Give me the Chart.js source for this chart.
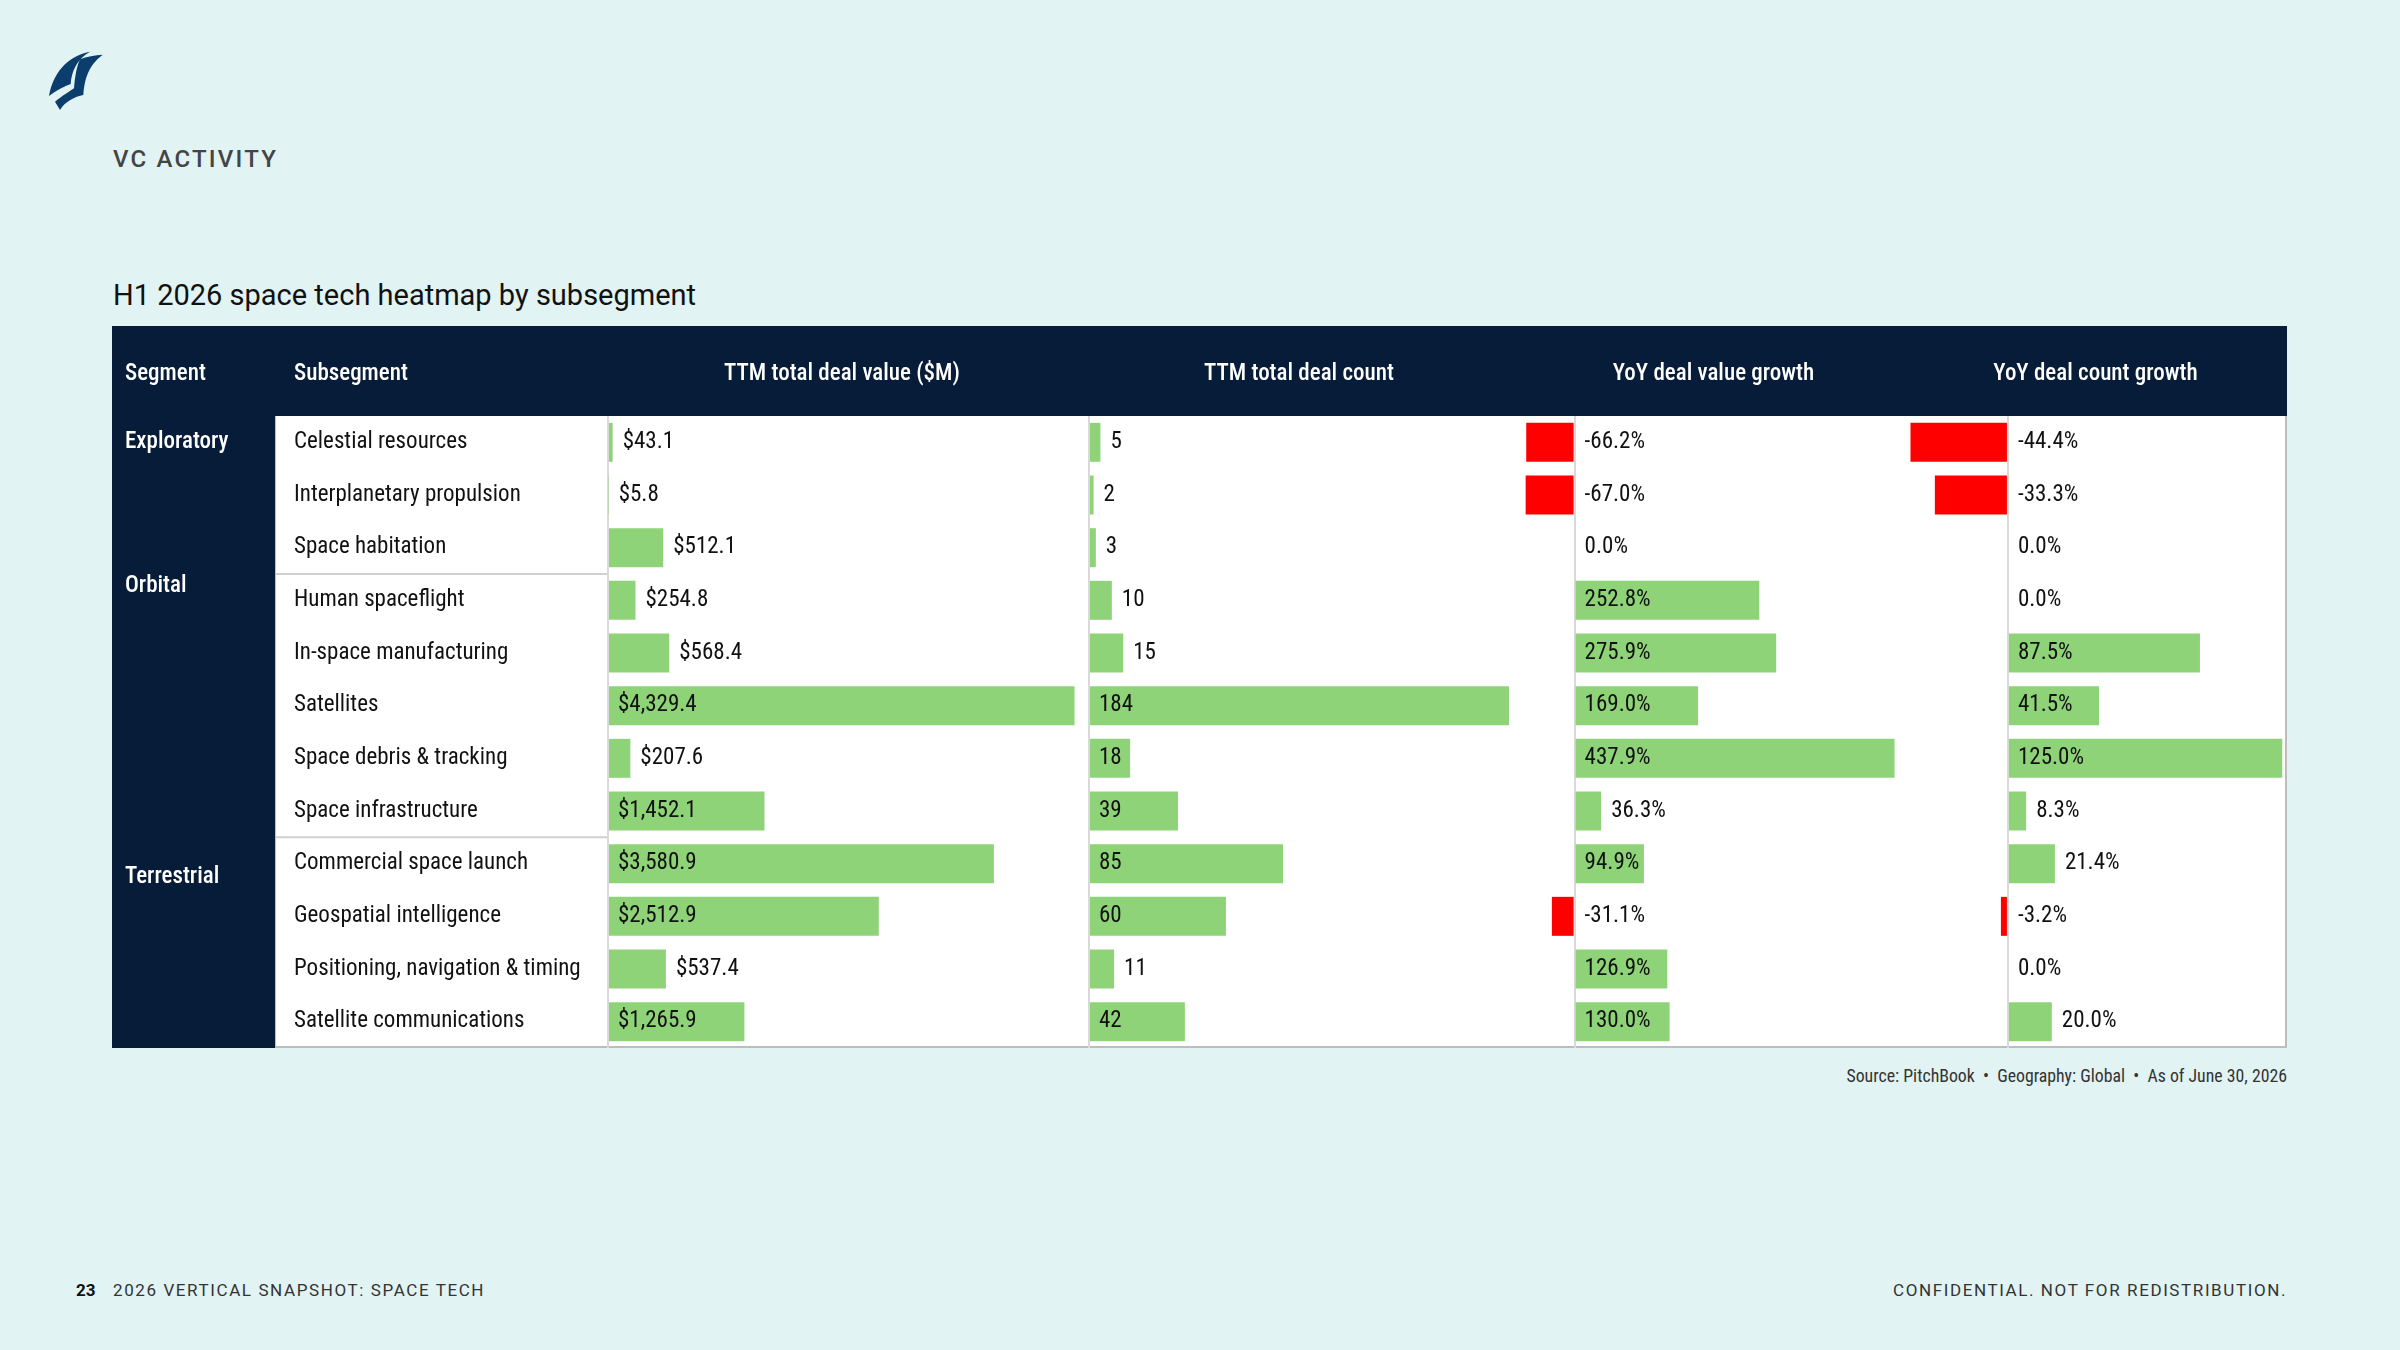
<!DOCTYPE html>
<html>
<head>
<meta charset="utf-8">
<script src="https://cdn.jsdelivr.net/npm/chart.js@4.4.1/dist/chart.umd.min.js"></script>
<style>
  html, body { margin: 0; padding: 0; }
  body { width: 2400px; height: 1350px; background: #e1f3f3; position: relative; overflow: hidden; font-family: Roboto, sans-serif; }
  .abs { position: absolute; white-space: nowrap; }
  #logo { left: 30px; top: 40px; }
  #section { left: 113px; top: 146px; font-size: 24px; line-height: 26px; font-weight: 500; letter-spacing: 2.2px; color: #444; }
  #title { left: 113px; top: 277px; font-size: 29px; line-height: 36px; color: #111; }
  #wrap { left: 112px; top: 326px; width: 2175px; height: 722px; }
  #source { right: 113px; top: 1064px; font-size: 17.8px; line-height: 24px; color: #333; font-family: 'Roboto Condensed', Roboto, sans-serif; }
  #pageno { left: 76px; top: 1280px; font-size: 17px; line-height: 20px; font-weight: 700; color: #111; }
  #report { left: 113px; top: 1280px; font-size: 17px; line-height: 20px; letter-spacing: 1.6px; color: #333; }
  #conf { right: 113px; top: 1280px; font-size: 17px; line-height: 20px; letter-spacing: 1.6px; color: #333; }
</style>
</head>
<body>
<svg id="logo" class="abs" width="90" height="80" viewBox="0 0 270 240">
  <path d="M180,35 C125,45 72,85 57,168 C78,152 100,140 122,132 C124,95 140,58 180,35 Z" fill="#0b3e6c"/>
  <path d="M150,58 C170,50 195,45 218,44 C185,70 165,100 160,165 C135,170 105,185 90,210 L75,185 C100,165 118,155 132,145 C135,110 140,80 150,58 Z" fill="#0b3e6c"/>
</svg>
<div id="section" class="abs">VC ACTIVITY</div>
<div id="title" class="abs">H1 2026 space tech heatmap by subsegment</div>
<div id="wrap" class="abs"><canvas id="heatmap"></canvas></div>
<div id="source" class="abs">Source: PitchBook &nbsp;•&nbsp; Geography: Global &nbsp;•&nbsp; As of June 30, 2026</div>
<div id="pageno" class="abs">23</div>
<div id="report" class="abs">2026 VERTICAL SNAPSHOT: SPACE TECH</div>
<div id="conf" class="abs">CONFIDENTIAL. NOT FOR REDISTRIBUTION.</div>
<script>
// table data
const subsegments = ['Celestial resources', 'Interplanetary propulsion', 'Space habitation', 'Human spaceflight',
  'In-space manufacturing', 'Satellites', 'Space debris & tracking', 'Space infrastructure',
  'Commercial space launch', 'Geospatial intelligence', 'Positioning, navigation & timing', 'Satellite communications'];
const segmentRows = ['Exploratory', '', '', 'Orbital', '', '', '', '', 'Terrestrial', '', '', ''];
const dealValue = [43.1, 5.8, 512.1, 254.8, 568.4, 4329.4, 207.6, 1452.1, 3580.9, 2512.9, 537.4, 1265.9];
const dealCount = [5, 2, 3, 10, 15, 184, 18, 39, 85, 60, 11, 42];
const valueGrowth = [-66.2, -67.0, 0.0, 252.8, 275.9, 169.0, 437.9, 36.3, 94.9, -31.1, 126.9, 130.0];
const countGrowth = [-44.4, -33.3, 0.0, 0.0, 87.5, 41.5, 125.0, 8.3, 21.4, -3.2, 0.0, 20.0];
const columnTitles = ['TTM total deal value ($M)', 'TTM total deal count', 'YoY deal value growth', 'YoY deal count growth'];
const rowHeaders = ['Segment', 'Subsegment'];

const COND = "'Roboto Condensed', Roboto, sans-serif";
const NAVY = '#071c38';
const GREEN = '#8fd379';
const RED = '#ff0000';
const PAD = 10;
// segment names sit a little above / below their first row
const SEG_NUDGE = { 3: -1, 8: 1 };

const money = v => '$' + v.toLocaleString('en-US', { minimumFractionDigits: 1, maximumFractionDigits: 1 });
const count = v => String(v);
const pct = v => v.toFixed(1) + '%';

// one value axis per column, placed side by side in the header stack
const columns = [
  { id: 'x1', data: dealValue, fmt: money, min: 0, max: 4343, width: 468 },
  { id: 'x2', data: dealCount, fmt: count, min: -5.7, max: 189.7, width: 446 },
  { id: 'x3', data: valueGrowth, fmt: pct, min: -72, max: 452.2, width: 383 },
  { id: 'x4', data: countGrowth, fmt: pct, min: -46.9, max: 126.7, width: 381 }
];

Chart.defaults.font.family = COND;

const xScale = (c, i) => ({
  type: 'linear',
  position: 'top',
  stack: 'cols',
  stackWeight: c.width,
  weight: columns.length - i,
  min: c.min,
  max: c.max,
  afterBuildTicks: s => { s.ticks = [{ value: 0 }]; },
  afterFit: s => { s.height = 90; },
  ticks: { display: false },
  border: { display: false },
  grid: {
    drawTicks: false,
    lineWidth: 2,
    color: ctx => (ctx.tick && ctx.tick.value === 0 ? '#d9d9d9' : 'rgba(0,0,0,0)')
  },
  title: {
    display: true,
    text: columnTitles[i],
    color: '#ffffff',
    font: { family: COND, size: 23, weight: '500' },
    padding: { top: 34, bottom: 0 }
  }
});

const fixWidth = w => s => { s.width = w; s.paddingTop = 0; s.paddingBottom = 0; };

const scales = {
  y: {
    type: 'category',
    position: 'left',
    weight: 1,
    offset: true,
    afterFit: fixWidth(314),
    grid: { display: false, drawTicks: false },
    border: { display: false },
    ticks: { crossAlign: 'far', autoSkip: false, padding: 0, color: '#111', font: { family: COND, size: 23 } }
  },
  seg: {
    type: 'category',
    position: 'left',
    weight: 2,
    offset: true,
    labels: segmentRows,
    afterFit: fixWidth(169),
    grid: { display: false, drawTicks: false },
    border: { display: false },
    ticks: {
      crossAlign: 'far', autoSkip: false, padding: 0, color: '#ffffff',
      font: { family: COND, size: 23, weight: '500' },
      callback: (v, i) => {
        const s = segmentRows[i];
        if (SEG_NUDGE[i] === -1) return [s, ''];
        if (SEG_NUDGE[i] === 1) return ['', s];
        return s;
      }
    }
  }
};
columns.forEach((c, i) => { scales[c.id] = xScale(c, i); });

// backgrounds, header cells, group rules
const tableFrame = {
  id: 'tableFrame',
  beforeDraw(chart) {
    const { ctx, chartArea: a, width, height } = chart;
    const sub = chart.scales.y, seg = chart.scales.seg;
    const colLeft = sub.left - 18.5;
    ctx.save();
    ctx.fillStyle = NAVY;
    ctx.fillRect(0, 0, width, a.top);
    ctx.fillRect(0, 0, colLeft, height);
    ctx.fillStyle = '#ffffff';
    ctx.fillRect(colLeft, a.top, width - colLeft, height - a.top);
    ctx.strokeStyle = '#bdbdbd';
    ctx.lineWidth = 2;
    ctx.beginPath();
    ctx.moveTo(colLeft, height - 1);
    ctx.lineTo(width - 1, height - 1);
    ctx.lineTo(width - 1, a.top);
    ctx.stroke();
    ctx.strokeStyle = '#d0d0d0';
    segmentRows.forEach((s, i) => {
      if (i === 0 || !s) return;
      const yb = (sub.getPixelForValue(i - 1) + sub.getPixelForValue(i)) / 2;
      ctx.beginPath();
      ctx.moveTo(colLeft, yb);
      ctx.lineTo(a.left, yb);
      ctx.stroke();
    });
    ctx.fillStyle = '#ffffff';
    ctx.font = '500 23px ' + COND;
    ctx.textBaseline = 'middle';
    ctx.textAlign = 'left';
    ctx.fillText(rowHeaders[0], seg.left, a.top / 2 + 3);
    ctx.fillText(rowHeaders[1], sub.left, a.top / 2 + 3);
    ctx.restore();
  }
};

// value text inside long bars, beside short ones
const valueLabels = {
  id: 'valueLabels',
  afterDatasetsDraw(chart) {
    const ctx = chart.ctx;
    ctx.save();
    ctx.font = '400 23px ' + COND;
    ctx.fillStyle = '#111';
    ctx.textBaseline = 'middle';
    ctx.textAlign = 'left';
    chart.data.datasets.forEach((ds, di) => {
      const meta = chart.getDatasetMeta(di);
      const zero = chart.scales[ds.xAxisID].getPixelForValue(0);
      meta.data.forEach((bar, i) => {
        const v = ds.data[i];
        const text = columns[di].fmt(v);
        const w = ctx.measureText(text).width;
        let x = zero + PAD;
        if (v > 0 && bar.x - zero < w + 13) x = bar.x + PAD;
        ctx.fillText(text, x, bar.y);
      });
    });
    ctx.restore();
  }
};

new Chart(document.getElementById('heatmap'), {
  type: 'bar',
  data: {
    labels: subsegments,
    datasets: columns.map((c, i) => ({
      label: columnTitles[i],
      data: c.data,
      xAxisID: c.id,
      yAxisID: 'y',
      grouped: false,
      barPercentage: 0.74,
      categoryPercentage: 1,
      borderWidth: 0,
      backgroundColor: c.data.map(v => (v < 0 ? RED : GREEN))
    }))
  },
  options: {
    indexAxis: 'y',
    responsive: true,
    maintainAspectRatio: false,
    animation: false,
    layout: { padding: { left: 13, right: 1, top: 0, bottom: 0 } },
    plugins: { legend: { display: false }, tooltip: { enabled: false } },
    scales: scales
  },
  plugins: [tableFrame, valueLabels]
});
</script>
</body>
</html>
